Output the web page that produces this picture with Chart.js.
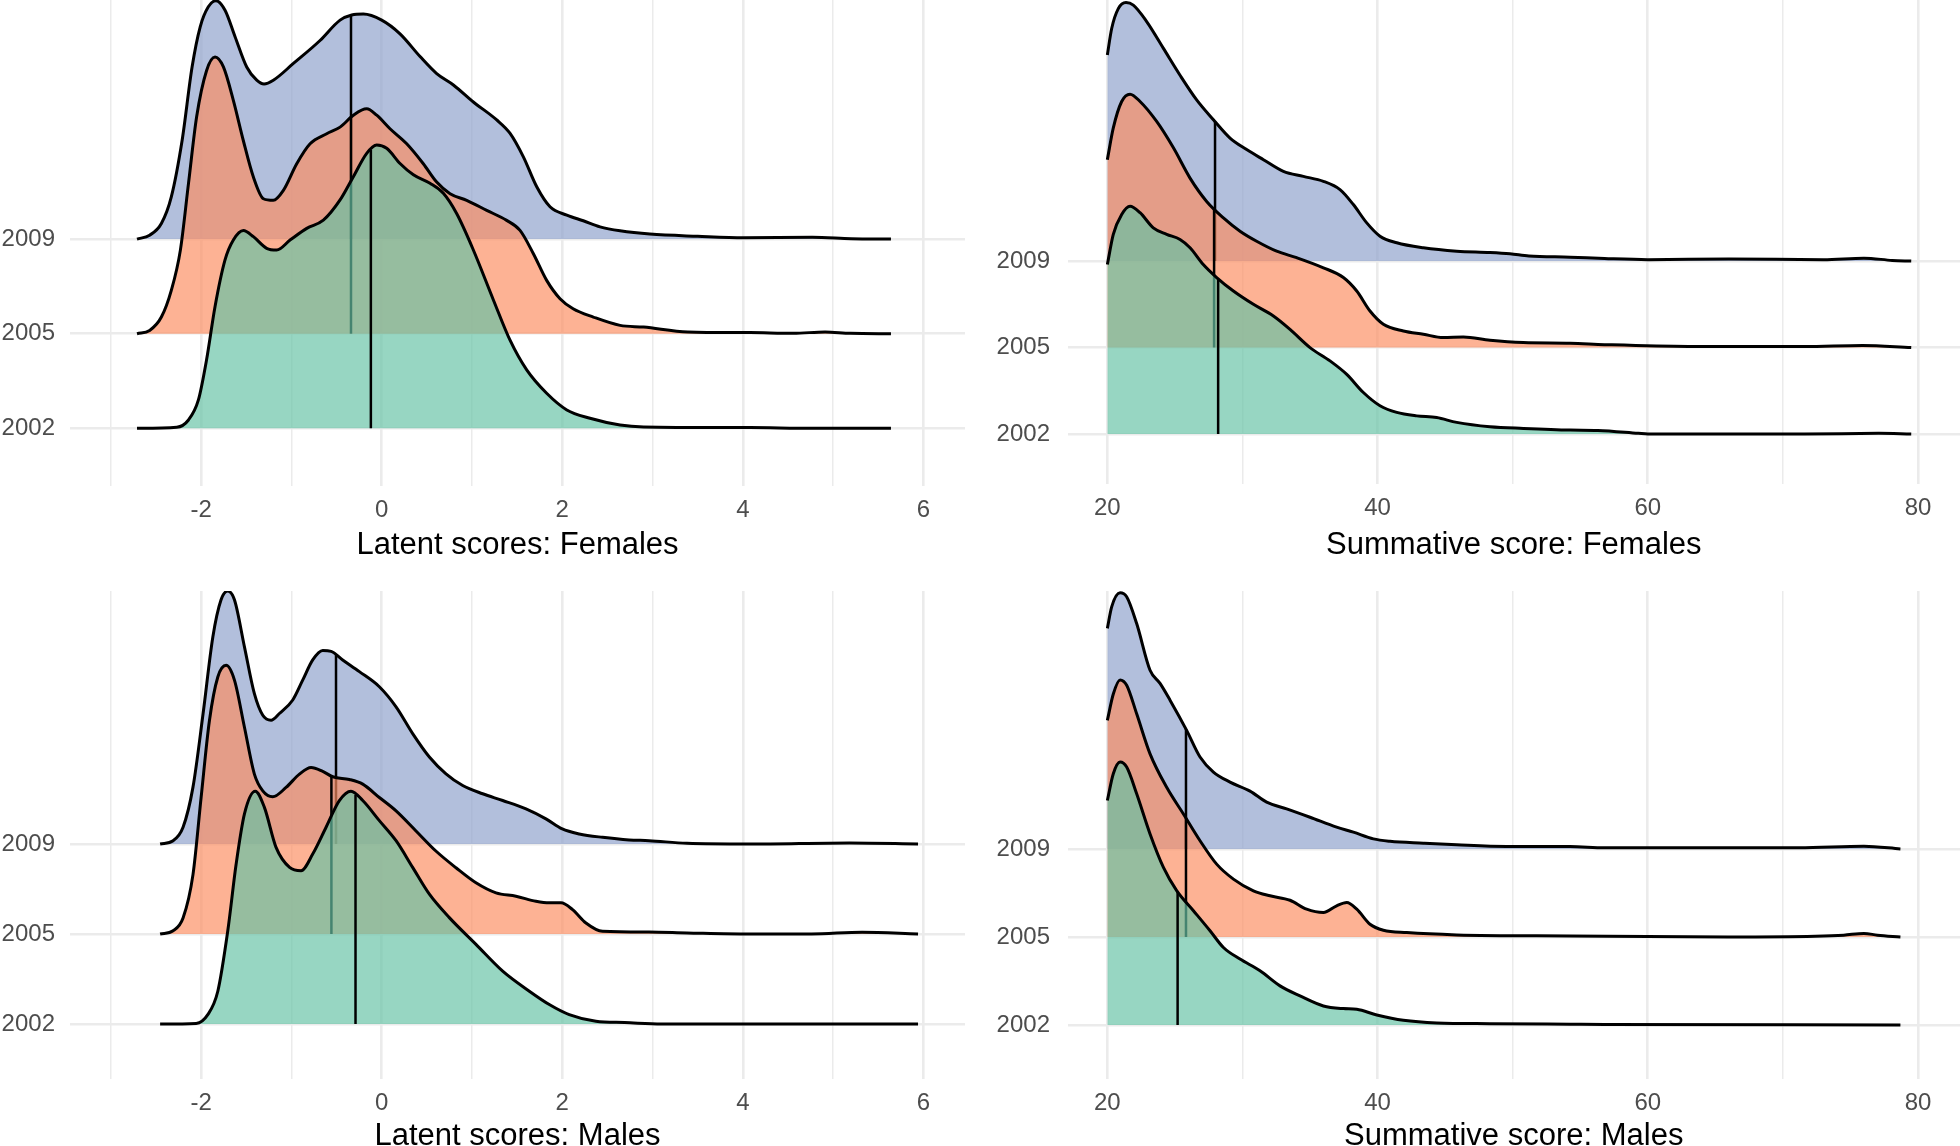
<!DOCTYPE html>
<html><head><meta charset="utf-8">
<script src="https://cdn.jsdelivr.net/npm/chart.js@4.4.1/dist/chart.umd.min.js"></script>
<style>
html,body{margin:0;padding:0;background:#fff;overflow:hidden;width:1960px;height:1146px;position:relative}
canvas{position:absolute;display:block}
</style></head><body>
<canvas id="c1" width="980" height="573" style="left:0;top:0"></canvas>
<canvas id="c2" width="980" height="573" style="left:980px;top:0"></canvas>
<canvas id="c3" width="980" height="600" style="left:0;top:573px"></canvas>
<canvas id="c4" width="980" height="600" style="left:980px;top:573px"></canvas>
<script>
// ---- data: [x, ridge height in row units] ----
const yearLabels = ['2002', '2005', '2009'];

const latentTicks = [-2, 0, 2, 4, 6];
const latentGrid = [-3, -2, -1, 0, 1, 2, 3, 4, 5, 6];
const summTicks = [20, 40, 60, 80];
const summGrid = [20, 30, 40, 50, 60, 70, 80];

// Latent scores: Females
const latF2002 = [[-2.71,0],[-2.27,0.011],[-2.14,0.088],[-2.03,0.30],[-1.94,0.722],[-1.846,1.286],[-1.735,1.78],[-1.643,1.99],[-1.532,2.09],[-1.421,2.026],[-1.274,1.903],[-1.163,1.885],[-1.015,1.99],[-0.83,2.114],[-0.646,2.20],[-0.461,2.414],[-0.314,2.66],[-0.166,2.907],[-0.055,2.995],[0.055,2.96],[0.203,2.80],[0.351,2.68],[0.535,2.59],[0.683,2.484],[0.83,2.27],[1.015,1.885],[1.237,1.357],[1.42,0.934],[1.606,0.617],[1.827,0.37],[2.05,0.194],[2.307,0.106],[2.64,0.035],[2.90,0.015],[4.08,0.008],[4.77,0],[5.64,0]];
const latF2005 = [[-2.71,0],[-2.57,0.035],[-2.44,0.176],[-2.33,0.458],[-2.23,0.881],[-2.14,1.586],[-2.05,2.29],[-1.94,2.78],[-1.846,2.925],[-1.753,2.82],[-1.643,2.467],[-1.532,2.04],[-1.421,1.656],[-1.31,1.427],[-1.20,1.41],[-1.089,1.515],[-0.941,1.797],[-0.793,2.008],[-0.609,2.114],[-0.461,2.184],[-0.314,2.31],[-0.166,2.378],[-0.055,2.31],[0.092,2.167],[0.277,2.008],[0.461,1.797],[0.609,1.603],[0.757,1.48],[0.941,1.41],[1.163,1.304],[1.384,1.198],[1.532,1.092],[1.68,0.846],[1.827,0.564],[1.975,0.37],[2.12,0.264],[2.344,0.176],[2.64,0.088],[2.90,0.07],[3.39,0.019],[4.08,0.012],[4.56,0.004],[4.91,0.019],[5.19,0.004],[5.64,0]];
const latF2009 = [[-2.71,0],[-2.57,0.042],[-2.44,0.166],[-2.33,0.447],[-2.21,1.046],[-2.10,1.82],[-2.01,2.245],[-1.92,2.456],[-1.835,2.52],[-1.735,2.42],[-1.624,2.14],[-1.495,1.82],[-1.384,1.68],[-1.303,1.64],[-1.20,1.68],[-0.978,1.857],[-0.683,2.10],[-0.461,2.315],[-0.332,2.37],[-0.203,2.38],[0,2.315],[0.203,2.17],[0.425,1.93],[0.609,1.75],[0.794,1.63],[1.015,1.45],[1.274,1.26],[1.42,1.12],[1.569,0.87],[1.717,0.553],[1.864,0.342],[2.05,0.254],[2.233,0.194],[2.418,0.13],[2.64,0.088],[2.97,0.053],[3.5,0.03],[4.01,0.015],[4.77,0.02],[5.2,0.005],[5.64,0]];
const latFMedians = [-0.12, -0.34, -0.34];

// Summative score: Females
const sumF2002 = [[20,1.96],[20.44,2.31],[21.06,2.54],[21.68,2.635],[22.42,2.56],[23.4,2.385],[24.39,2.31],[25.38,2.25],[26.12,2.154],[27.1,1.96],[28.09,1.81],[29.33,1.654],[30.81,1.5],[32.29,1.365],[33.52,1.21],[35.0,1.0],[36.48,0.846],[37.72,0.69],[38.95,0.48],[40.18,0.327],[41.42,0.25],[42.9,0.21],[44.38,0.19],[45.86,0.135],[48.32,0.085],[50.79,0.065],[54.25,0.046],[56.3,0.042],[59.3,0.008],[60,0],[71.6,0],[77.1,0.008],[79.5,0]];
const sumF2005 = [[20,2.173],[20.44,2.54],[21.06,2.846],[21.68,2.93],[22.42,2.846],[23.65,2.615],[24.89,2.31],[26.12,1.96],[27.35,1.69],[28.59,1.5],[29.82,1.346],[31.05,1.23],[32.53,1.115],[34.01,1.04],[35.99,0.923],[37.47,0.81],[38.46,0.654],[39.44,0.423],[40.43,0.27],[41.91,0.192],[43.39,0.154],[44.87,0.115],[46.35,0.123],[48.32,0.085],[50.79,0.058],[54.25,0.05],[56.8,0.034],[63,0.013],[71.6,0.013],[75.9,0.025],[79.5,0]];
const sumF2009 = [[20,2.385],[20.32,2.69],[20.81,2.92],[21.38,2.99],[21.92,2.96],[22.91,2.77],[24.15,2.46],[25.38,2.15],[26.61,1.865],[27.85,1.635],[29.08,1.423],[30.31,1.29],[31.55,1.173],[33.03,1.038],[34.51,0.98],[35.99,0.923],[37.22,0.827],[38.21,0.654],[39.2,0.442],[40.18,0.288],[41.42,0.212],[43.39,0.154],[45.86,0.115],[48.32,0.1],[49.8,0.085],[51.2,0.06],[54.25,0.046],[56.8,0.03],[60,0.017],[66,0.025],[73,0.017],[76,0.034],[78.1,0.008],[79.5,0]];
const sumFMedians = [28.2, 27.9, 27.97];

// Latent scores: Males
const latM2002 = [[-2.454,0],[-2.055,0.007],[-1.926,0.104],[-1.815,0.364],[-1.705,1.033],[-1.612,1.777],[-1.52,2.335],[-1.4,2.587],[-1.3,2.41],[-1.17,1.963],[-1.02,1.74],[-0.893,1.703],[-0.764,1.888],[-0.616,2.186],[-0.469,2.483],[-0.34,2.587],[-0.21,2.483],[-0.026,2.26],[0.159,2.037],[0.343,1.74],[0.528,1.442],[0.749,1.182],[1.044,0.885],[1.34,0.587],[1.635,0.364],[1.856,0.216],[2.077,0.104],[2.373,0.03],[2.69,0.016],[3.1,0],[5.94,0]];
const latM2005 = [[-2.454,0],[-2.31,0.037],[-2.20,0.178],[-2.09,0.66],[-2.0,1.517],[-1.908,2.37],[-1.815,2.855],[-1.723,2.985],[-1.63,2.818],[-1.52,2.297],[-1.41,1.777],[-1.317,1.59],[-1.207,1.524],[-1.06,1.628],[-0.911,1.777],[-0.782,1.851],[-0.653,1.807],[-0.542,1.747],[-0.358,1.717],[-0.21,1.665],[-0.026,1.517],[0.159,1.368],[0.38,1.145],[0.6,0.922],[0.823,0.736],[1.044,0.569],[1.266,0.457],[1.487,0.42],[1.708,0.364],[1.856,0.346],[1.985,0.346],[2.114,0.271],[2.262,0.123],[2.446,0.03],[2.96,0.022],[3.38,0.012],[4.07,0],[4.76,0],[5.32,0.02],[5.94,0]];
const latM2009 = [[-2.454,0],[-2.31,0.037],[-2.20,0.186],[-2.09,0.632],[-1.978,1.45],[-1.87,2.30],[-1.78,2.71],[-1.705,2.81],[-1.63,2.71],[-1.52,2.19],[-1.41,1.67],[-1.317,1.43],[-1.225,1.375],[-1.133,1.45],[-0.985,1.6],[-0.875,1.82],[-0.764,2.045],[-0.653,2.15],[-0.56,2.14],[-0.432,2.045],[-0.247,1.915],[-0.026,1.747],[0.159,1.524],[0.343,1.227],[0.528,0.967],[0.712,0.78],[0.897,0.65],[1.118,0.558],[1.34,0.483],[1.598,0.39],[1.819,0.279],[2.0,0.167],[2.188,0.112],[2.446,0.074],[2.74,0.045],[2.96,0.037],[3.38,0.008],[4.07,0],[5.18,0.012],[5.94,0]];
const latMMedians = [-0.29, -0.557, -0.506];

// Summative score: Males
const sumM2002 = [[20,2.55],[20.44,2.854],[20.94,2.987],[21.43,2.93],[22.17,2.626],[23.16,2.17],[24.15,1.79],[25.13,1.526],[26.37,1.298],[27.6,1.07],[28.59,0.88],[29.82,0.748],[31.3,0.615],[32.78,0.444],[34.26,0.33],[35.99,0.216],[37.47,0.186],[38.46,0.178],[39.94,0.114],[41.91,0.053],[44.38,0.023],[48.32,0.015],[54.25,0.008],[56.8,0.005],[78.7,0]];
const sumM2005 = [[20,2.46],[20.44,2.76],[20.94,2.92],[21.43,2.86],[22.17,2.535],[23.16,2.08],[24.39,1.70],[25.63,1.397],[26.86,1.093],[28.09,0.827],[29.33,0.657],[30.81,0.524],[32.04,0.467],[33.52,0.417],[34.75,0.315],[35.99,0.277],[36.97,0.353],[37.72,0.39],[38.46,0.315],[39.44,0.144],[40.43,0.076],[42.16,0.049],[45.86,0.023],[54.25,0.011],[66,0],[72.4,0.008],[74.5,0.02],[76.0,0.04],[77,0.02],[78.7,0]];
const sumM2009 = [[20,2.505],[20.32,2.75],[20.94,2.91],[21.43,2.865],[22.17,2.56],[23.16,2.03],[23.9,1.88],[24.64,1.69],[25.87,1.347],[26.86,1.044],[27.85,0.873],[29.08,0.759],[30.56,0.657],[31.79,0.531],[33.27,0.455],[35.0,0.36],[36.97,0.247],[38.21,0.19],[39.69,0.114],[40.92,0.087],[43.39,0.065],[45.86,0.046],[49.56,0.027],[54.25,0.027],[56.8,0.012],[62.9,0.012],[71.2,0.012],[76.0,0.03],[78.7,0]];
const sumMMedians = [25.2, 25.82, 25.82];

// ---- styling ----
const fillColors = ['rgba(102,194,165,0.68)', 'rgba(252,141,98,0.68)', 'rgba(141,160,203,0.68)'];
const FONT = 'Liberation Sans, Arial, Helvetica, sans-serif';

function heightAt(pts, x) {
  for (let i = 1; i < pts.length; i++) {
    if (x <= pts[i][0]) {
      const [x0, y0] = pts[i - 1], [x1, y1] = pts[i];
      return y0 + (y1 - y0) * (x - x0) / (x1 - x0);
    }
  }
  return pts[pts.length - 1][1];
}

function makeChart(id, cfg) {
  const datasets = [];
  cfg.ridges.forEach((pts, i) => {
    const base = i + 1;
    datasets.push({
      data: pts.map(p => ({x: p[0], y: base + p[1]})),
      fill: {value: base}, backgroundColor: fillColors[i],
      borderColor: '#000', borderWidth: 3, pointRadius: 0,
      cubicInterpolationMode: 'monotone', order: 2 * i + 2
    });
    const m = cfg.medians[i];
    datasets.push({
      data: [{x: m, y: base}, {x: m, y: base + heightAt(pts, m)}],
      fill: false, borderColor: '#000', borderWidth: 2.5, pointRadius: 0, order: 2 * i + 1
    });
  });
  new Chart(document.getElementById(id), {
    type: 'line',
    data: {datasets},
    options: {
      responsive: false, animation: false, events: [],
      layout: {padding: cfg.pad},
      plugins: {legend: {display: false}, tooltip: {enabled: false}},
      scales: {
        x: {
          type: 'linear', min: cfg.xmin, max: cfg.xmax,
          afterBuildTicks: s => { s.ticks = cfg.grid.map(v => ({value: v})); },
          afterFit: s => { s.height = cfg.xAxisH; s.paddingLeft = 0; s.paddingRight = 0; },
          grid: {color: '#EBEBEB', drawTicks: false,
                 lineWidth: c => (c.tick && cfg.ticks.includes(c.tick.value)) ? 2.6 : 1.5},
          border: {display: false},
          ticks: {autoSkip: false, maxRotation: 0, padding: 10, color: '#4D4D4D',
                  font: {family: FONT, size: 24},
                  callback: v => cfg.ticks.includes(v) ? String(v) : ''},
          title: {display: true, text: cfg.title, color: '#000',
                  font: {family: FONT, size: 31, lineHeight: 1},
                  padding: {top: 0, bottom: cfg.titlePad}}
        },
        y: {
          type: 'linear', min: cfg.ymin, max: cfg.ymax,
          afterBuildTicks: s => { s.ticks = [1, 2, 3].map(v => ({value: v})); },
          afterFit: s => { s.width = cfg.yAxisW; s.paddingTop = 0; s.paddingBottom = 0; },
          grid: {color: '#EBEBEB', lineWidth: 2.6, drawTicks: false},
          border: {display: false},
          ticks: {padding: cfg.yPad, color: '#4D4D4D', font: {family: FONT, size: 24},
                  callback: v => yearLabels[Math.round(v) - 1]}
        }
      }
    }
  });
}

makeChart('c1', {ridges: [latF2002, latF2005, latF2009], medians: latFMedians,
  ticks: latentTicks, grid: latentGrid, title: 'Latent scores: Females',
  xmin: -3.452, xmax: 6.46, ymin: 0.39, ymax: 5.528,
  pad: {top: 0, left: 0, right: 15, bottom: 0}, yAxisW: 70, yPad: 15, xAxisH: 87, titlePad: 12.5});
makeChart('c2', {ridges: [sumF2002, sumF2005, sumF2009], medians: sumFMedians,
  ticks: summTicks, grid: summGrid, title: 'Summative score: Females',
  xmin: 17.05, xmax: 83.11, ymin: 0.422, ymax: 6.02,
  pad: {top: 0, left: 0, right: 0, bottom: 0}, yAxisW: 87.5, yPad: 17.5, xAxisH: 89, titlePad: 12.5});
makeChart('c3', {ridges: [latM2002, latM2005, latM2009], medians: latMMedians,
  ticks: latentTicks, grid: latentGrid, title: 'Latent scores: Males',
  xmin: -3.452, xmax: 6.46, ymin: 0.389, ymax: 5.811,
  pad: {top: 18, left: 0, right: 15, bottom: 0}, yAxisW: 70, yPad: 15, xAxisH: 94, titlePad: 21.5});
makeChart('c4', {ridges: [sumM2002, sumM2005, sumM2009], medians: sumMMedians,
  ticks: summTicks, grid: summGrid, title: 'Summative score: Males',
  xmin: 17.05, xmax: 83.11, ymin: 0.386, ymax: 5.93,
  pad: {top: 18, left: 0, right: 0, bottom: 0}, yAxisW: 87.5, yPad: 17.5, xAxisH: 94, titlePad: 21.5});
</script>
</body></html>
